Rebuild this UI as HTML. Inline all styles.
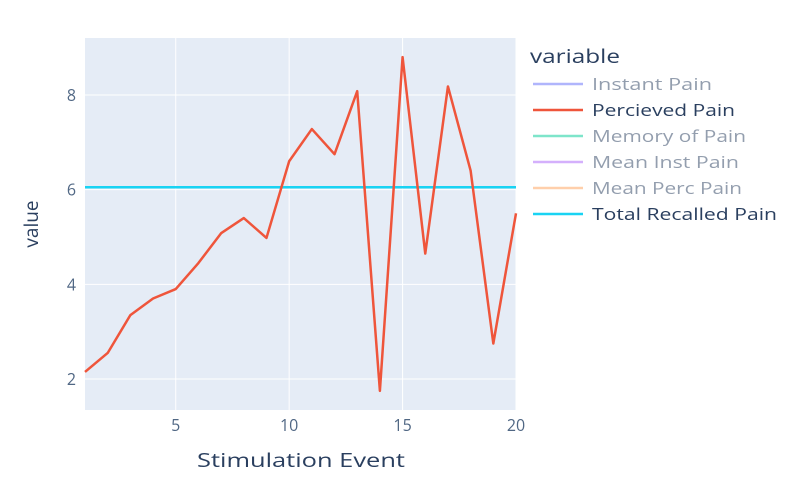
<!DOCTYPE html>
<html><head><meta charset="utf-8"><style>
body{margin:0;background:#fff;}
svg{display:block;font-family:"Open Sans","Liberation Sans",sans-serif;}
</style></head><body>
<svg id="chart" width="788" height="484">
<rect x="85" y="38" width="431" height="372" fill="#e5ecf6"/>
<g id="grid"></g><g id="series"></g><g id="axes"></g>
<text x="197" y="467" font-size="19" fill="#2a3f5f" textLength="208" lengthAdjust="spacingAndGlyphs">Stimulation Event</text>
<text x="38" y="224" text-anchor="middle" font-size="19" fill="#2a3f5f" transform="rotate(-90 38 224)">value</text>
<g id="legend">
<text x="530" y="63" font-size="19" fill="#2a3f5f" textLength="90" lengthAdjust="spacingAndGlyphs">variable</text>
</g>
</svg>
<script>
const xs=[1,2,3,4,5,6,7,8,9,10,11,12,13,14,15,16,17,18,19,20];
const perceived=[2.15,2.55,3.35,3.7,3.9,4.45,5.08,5.4,4.98,6.6,7.28,6.75,8.08,1.75,8.8,4.65,8.18,6.4,2.75,5.5];
const totalRecalled=[6.05];
const xTicks=[5,10,15,20];
const yTicks=[2,4,6,8];
const legendNames=["Instant Pain","Percieved Pain","Memory of Pain","Mean Inst Pain","Mean Perc Pain","Total Recalled Pain"];
const legendColors=["#636efa","#ef553b","#00cc96","#ab63fa","#ffa15a","#19d3f3"];
const legendActive=[false,true,false,false,false,true];
const legendWidths=[120,143,154,147,150,185];
const X=v=>85+(v-1)*(431/19);
const Y=v=>95+(8-v)*(284/6);
const NS="http://www.w3.org/2000/svg";
function mk(t,a,p){const e=document.createElementNS(NS,t);for(const k in a)e.setAttribute(k,a[k]);p.appendChild(e);return e;}
const grid=document.getElementById('grid'),axes=document.getElementById('axes'),ser=document.getElementById('series'),leg=document.getElementById('legend');
xTicks.forEach(t=>{const l=mk('line',{x1:X(t),x2:X(t),y1:38,y2:410,stroke:'#fff','stroke-width':1},grid);


const tx=mk('text',{x:X(t),y:431,'text-anchor':'middle','font-size':16,fill:'#506784'},axes);tx.textContent=t;

});
yTicks.forEach(t=>{const l=mk('line',{x1:85,x2:516,y1:Y(t),y2:Y(t),stroke:'#fff','stroke-width':1},grid);


const tx=mk('text',{x:76,y:Y(t)+6,'text-anchor':'end','font-size':16,fill:'#506784'},axes);tx.textContent=t;

});
const h=mk('line',{x1:85,x2:516,y1:Y(totalRecalled[0]),y2:Y(totalRecalled[0]),stroke:'#19d3f3','stroke-width':2.5},ser);


const p=mk('polyline',{points:xs.map((x,i)=>X(x)+','+Y(perceived[i])).join(' '),fill:'none',stroke:'#ef553b','stroke-width':2.5,'stroke-linejoin':'round'},ser);


legendNames.forEach((n,i)=>{const y=84+i*26;
const g=mk('g',{opacity:legendActive[i]?1:0.5},leg);


mk('line',{x1:533,x2:583,y1:y,y2:y,stroke:legendColors[i],'stroke-width':2.5},g);
const t=mk('text',{x:592,y:y+6,'font-size':16,fill:'#2a3f5f',textLength:legendWidths[i],lengthAdjust:'spacingAndGlyphs'},g);t.textContent=n;});
</script>
</body></html>
